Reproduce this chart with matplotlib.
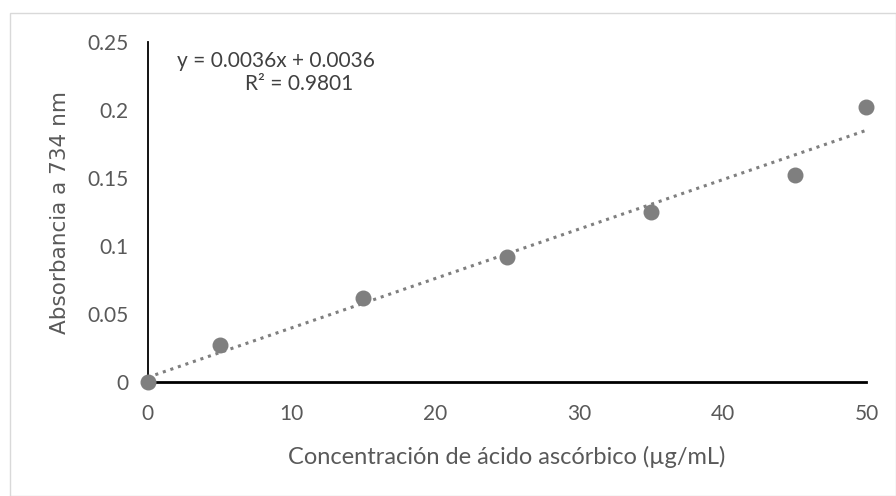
import numpy as np
import matplotlib.pyplot as plt
from matplotlib.patches import Rectangle

# data
conc = [0, 5, 15, 25, 35, 45, 50]
absorb = [0.0, 0.027, 0.062, 0.092, 0.125, 0.152, 0.202]
xticks = [0, 10, 20, 30, 40, 50]
yticks = [0, 0.05, 0.1, 0.15, 0.2, 0.25]
ytick_labels = ['0', '0.05', '0.1', '0.15', '0.2', '0.25']

plt.rcParams['font.family'] = ['Lato', 'DejaVu Sans']

fig = plt.figure(figsize=(8.96, 4.96), dpi=100)
fig.patches.append(Rectangle((0.011, 0.0), 0.989, 0.974, transform=fig.transFigure,
                             fill=False, edgecolor='#d9d9d9', linewidth=1))
ax = fig.add_axes([0.165, 0.23, 0.802, 0.685])

# linear trendline
m, b = np.polyfit(conc, absorb, 1)
xs = np.array([0, 50])
ax.plot(xs, m * xs + b, linestyle=(0, (1, 1.6)), color='#7f7f7f', linewidth=2.2, zorder=2)
ax.scatter(conc, absorb, s=110, color='#7f7f7f', zorder=3, clip_on=False)

ax.text(0.04, 0.975, 'y = 0.0036x + 0.0036', transform=ax.transAxes,
        fontsize=15, color='#404040', ha='left', va='top')
ax.text(0.135, 0.905, 'R² = 0.9801', transform=ax.transAxes,
        fontsize=15, color='#404040', ha='left', va='top')

ax.set_xlim(0, 50)
ax.set_ylim(0, 0.25)
ax.set_xticks(xticks)
ax.set_yticks(yticks)
ax.set_yticklabels(ytick_labels)
ax.tick_params(length=0, labelsize=15, labelcolor='#595959')
ax.tick_params(axis='x', pad=16)
ax.tick_params(axis='y', pad=14)
for s in ['top', 'right']:
    ax.spines[s].set_visible(False)
ax.spines['left'].set_color('black')
ax.spines['bottom'].set_color('black')
ax.spines['left'].set_linewidth(1.3)
ax.spines['bottom'].set_linewidth(2)

ax.set_xlabel('Concentración de ácido ascórbico (µg/mL)', fontsize=17, color='#595959', labelpad=16)
ax.set_ylabel('Absorbancia a 734 nm', fontsize=15.5, color='#595959', family='DejaVu Sans', labelpad=12)

fig.savefig('out.png', dpi=100)
